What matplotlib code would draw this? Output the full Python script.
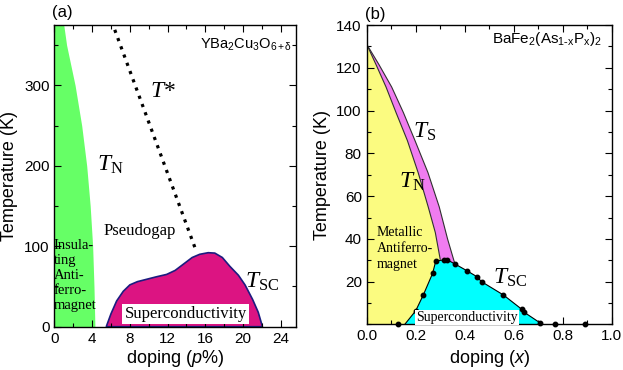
import matplotlib
matplotlib.use("Agg")
import matplotlib.pyplot as plt
from matplotlib.ticker import MultipleLocator
import numpy as np

plt.rcParams['font.family'] = ['Liberation Sans', 'DejaVu Sans']
plt.rcParams['mathtext.fontset'] = 'custom'
plt.rcParams['mathtext.rm'] = 'Liberation Serif'
plt.rcParams['mathtext.it'] = 'Liberation Serif:italic'
plt.rcParams['mathtext.sf'] = 'Liberation Sans:italic'
plt.rcParams['mathtext.default'] = 'regular'

# ---- Panel (a): YBa2Cu3O6+d ----
afm_a_T = [375, 350, 300, 250, 200, 150, 100, 50, 0]
afm_a_x = [1.0, 1.3, 2.2, 2.9, 3.43, 3.8, 4.06, 4.2, 4.3]

tstar_x = [6.4, 15.0]
tstar_T = [369, 95]

sc_a_x = [5.5, 6.0, 6.6, 7.3, 8.0, 8.8, 9.8, 10.8, 11.9, 12.8, 13.7, 14.6, 15.4,
          16.3, 17.0, 17.8, 18.6, 19.5, 20.2, 21.0, 21.6, 22.05]
sc_a_T = [0, 16, 32, 44, 52, 56, 59, 62, 65, 70, 78, 86, 90,
          92, 91.5, 86, 75, 64, 52, 34, 18, 0]

# ---- Panel (b): BaFe2(As1-xPx)2 ----
tn_b_x = [0.0, 0.04, 0.079, 0.12, 0.166, 0.21, 0.251, 0.28, 0.30]
tn_b_T = [131, 121, 111, 99, 86, 71, 55, 43, 30.5]
ts_b_x = [0.0, 0.05, 0.102, 0.15, 0.197, 0.25, 0.296, 0.33, 0.36]
ts_b_T = [131, 121.5, 111, 99, 86, 71, 55, 40, 28.3]
sc_b_x = [0.129, 0.2, 0.231, 0.269, 0.282, 0.316, 0.329, 0.36, 0.408, 0.449,
          0.469, 0.558, 0.633, 0.643, 0.707, 0.769, 0.89]
sc_b_T = [0.2, 6.4, 13.8, 23.9, 29.7, 30.2, 30.2, 28.3, 25.2, 22.4,
          20.0, 13.8, 7.1, 5.7, 0.8, 0.2, 0.0]
sc_b_start = 0.155
sc_b_end = 0.72

fig = plt.figure(figsize=(6.23, 3.70), dpi=100)
ax1 = fig.add_axes([0.0872, 0.117, 0.3879, 0.8154])
ax2 = fig.add_axes([0.5886, 0.123, 0.3933, 0.8094])

serif = 'Liberation Serif'
tfs = 17

# Panel a
ax1.fill_betweenx(afm_a_T, 0, afm_a_x, color='#66ff66', lw=0)
ax1.fill(sc_a_x, sc_a_T, facecolor='#dc1482', edgecolor='#1c1c80', lw=1.2)
ax1.plot(tstar_x, tstar_T, color='black', lw=2.3, linestyle=(0, (1, 1.75)))
ax1.set_xlim(0, 25.6)
ax1.set_ylim(0, 375)
ax1.xaxis.set_major_locator(MultipleLocator(4))
ax1.xaxis.set_minor_locator(MultipleLocator(2))
ax1.yaxis.set_major_locator(MultipleLocator(100))
ax1.yaxis.set_minor_locator(MultipleLocator(50))
ax1.set_xlabel(r'doping ($\mathsf{p}$%)', fontsize=13, labelpad=2)
ax1.set_ylabel('Temperature (K)', fontsize=13, labelpad=4)

ax1.text(10.1, 285, r'$\mathit{T}$*', family=serif, fontsize=tfs, ha='left', va='baseline')
ax1.text(4.5, 194, r'$\mathit{T}_{N}$', family=serif, fontsize=tfs, ha='left', va='baseline')
ax1.text(20.2, 49, r'$\mathit{T}_{SC}$', family=serif, fontsize=tfs, ha='left', va='baseline')
ax1.text(5.2, 114, 'Pseudogap', family=serif, fontsize=12, ha='left', va='baseline')
ax1.text(-0.05, 109, 'Insula-\nting\nAnti-\nferro-\nmagnet', family=serif, fontsize=10.5,
         ha='left', va='top', linespacing=1.2)
ax1.text(13.9, 10.5, 'Superconductivity', family=serif, fontsize=12, ha='center', va='baseline',
         bbox=dict(facecolor='white', edgecolor='none', pad=1.5))
ax1.text(0.985, 0.923, r'YBa$_2$Cu$_3$O$_{6+\delta}$', transform=ax1.transAxes,
         fontsize=10.5, ha='right', va='baseline')

# Panel b
yel_x = [0] + tn_b_x + [0.282, 0.269, 0.231, 0.2, sc_b_start, 0]
yel_T = [0] + tn_b_T + [29.7, 23.9, 13.8, 6.4, 0, 0]
ax2.fill(yel_x, yel_T, facecolor='#fbfb80', edgecolor='none')
pink_x = ts_b_x + [0.329, 0.316] + tn_b_x[::-1]
pink_T = ts_b_T + [30.2, 30.2] + tn_b_T[::-1]
ax2.fill(pink_x, pink_T, facecolor='#f07cf0', edgecolor='none')
cyan_x = [sc_b_start] + sc_b_x[1:15] + [sc_b_end]
cyan_T = [0] + sc_b_T[1:15] + [0]
ax2.fill(cyan_x, cyan_T, facecolor='#00ffff', edgecolor='none')
ax2.plot(tn_b_x, tn_b_T, color='#303030', lw=0.8)
ax2.plot(ts_b_x, ts_b_T, color='#303030', lw=0.8)
ax2.plot(cyan_x, cyan_T, color='black', lw=0.8)
ax2.plot(sc_b_x, sc_b_T, linestyle='none', marker='o', ms=3.2, color='black', clip_on=False)
ax2.set_xlim(0, 1.0)
ax2.set_ylim(0, 140)
ax2.set_xticks([0, 0.2, 0.4, 0.6, 0.8, 1.0])
ax2.set_xticklabels(['0.0', '0.2', '0.4', '0.6', '0.8', '1.0'])
ax2.xaxis.set_minor_locator(MultipleLocator(0.1))
ax2.set_yticks([20, 40, 60, 80, 100, 120, 140])
ax2.yaxis.set_minor_locator(MultipleLocator(10))
ax2.set_xlabel(r'doping ($\mathsf{x}$)', fontsize=13, labelpad=3)
ax2.set_ylabel('Temperature (K)', fontsize=13, labelpad=4)

ax2.text(0.19, 87.5, r'$\mathit{T}_{S}$', family=serif, fontsize=tfs, ha='left', va='baseline')
ax2.text(0.13, 64, r'$\mathit{T}_{N}$', family=serif, fontsize=tfs, ha='left', va='baseline')
ax2.text(0.517, 19.3, r'$\mathit{T}_{SC}$', family=serif, fontsize=tfs, ha='left', va='baseline')
ax2.text(0.041, 46, 'Metallic\nAntiferro-\nmagnet', family=serif, fontsize=10,
         ha='left', va='top', linespacing=1.3)
ax2.text(0.41, 1.6, 'Superconductivity', family=serif, fontsize=10, ha='center', va='baseline',
         bbox=dict(facecolor='white', edgecolor='none', pad=0.8))
ax2.text(0.959, 0.939, r'BaFe$_2$(As$_{1\text{-}x}$P$_x$)$_2$', transform=ax2.transAxes,
         fontsize=11, ha='right', va='baseline')

for ax in (ax1, ax2):
    ax.tick_params(which='both', direction='in', top=True, right=True, labelsize=11)
    ax.tick_params(which='major', length=5, width=0.8)
    ax.tick_params(which='minor', length=3, width=0.8)
    for s in ax.spines.values():
        s.set_linewidth(1.0)

fig.text(0.083, 0.965, '(a)', fontsize=12, ha='left', va='center')
fig.text(0.586, 0.962, '(b)', fontsize=12, ha='left', va='center')

fig.savefig('out.png', dpi=100)
